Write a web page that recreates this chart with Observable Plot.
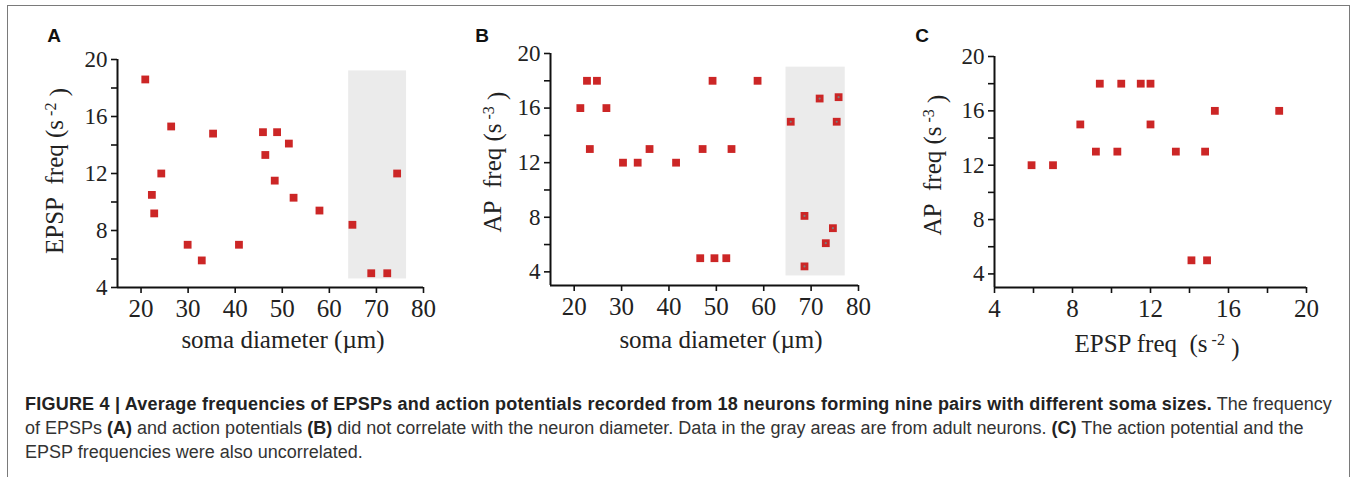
<!DOCTYPE html>
<html>
<head>
<meta charset="utf-8">
<script src="https://cdn.jsdelivr.net/npm/d3@7"></script>
<script src="https://cdn.jsdelivr.net/npm/@observablehq/plot@0.6"></script>
<style>
  body { margin: 0; background: #fff; }
  #wrap { position: relative; width: 1354px; height: 477px; overflow: hidden; background: #fff; }
  #frame { position: absolute; left: 7px; top: 5px; width: 1343px; height: 500px; border: 1.5px solid #7a7a7a; border-bottom: none; box-sizing: border-box; }
  .panel { position: absolute; top: 0; }
  #caption { position: absolute; left: 25px; top: 392px; font-family: "Liberation Sans", Arial, sans-serif; font-size: 18px; line-height: 24px; color: #333; white-space: nowrap; }
  #caption b { color: #222; }
  #caption b.lead { letter-spacing: 0.22px; }
</style>
</head>
<body>
<div id="wrap">
  <div id="frame"></div>
  <div id="pA" class="panel" style="left:0px"></div>
  <div id="pB" class="panel" style="left:450px"></div>
  <div id="pC" class="panel" style="left:900px"></div>
  <div id="caption">
    <b class="lead">FIGURE 4 | Average frequencies of EPSPs and action potentials recorded from 18 neurons forming nine pairs with different soma sizes.</b> The frequency<br>
    of EPSPs <b>(A)</b> and action potentials <b>(B)</b> did not correlate with the neuron diameter. Data in the gray areas are from adult neurons. <b>(C)</b> The action potential and the<br>
    EPSP frequencies were also uncorrelated.
  </div>
</div>
<script>
// ---------- DATA ----------
// Panel A: soma diameter (µm) vs EPSP freq
const aDiam = [20.9, 26.4, 24.3, 22.3, 22.8, 29.9, 32.9, 35.3, 40.8, 45.9, 48.9, 46.4, 51.4, 48.4, 52.4, 57.9, 64.9, 68.9, 72.3, 74.4];
const aEpsp = [18.6, 15.3, 12.0, 10.5, 9.2, 7.0, 5.9, 14.8, 7.0, 14.9, 14.9, 13.3, 14.1, 11.5, 10.3, 9.4, 8.4, 5.0, 5.0, 12.0];
// Panel B: soma diameter (µm) vs AP freq
const bDiam = [21.3, 22.7, 24.8, 23.3, 26.8, 30.3, 33.4, 35.9, 41.5, 46.6, 47.1, 49.2, 49.6, 52.1, 53.2, 58.7, 65.7, 68.6, 68.6, 71.8, 73.1, 74.6, 75.4, 75.8];
const bAp   = [16.0, 18.0, 18.0, 13.0, 16.0, 12.0, 12.0, 13.0, 12.0, 5.0, 13.0, 18.0, 5.0, 5.0, 13.0, 18.0, 15.0, 8.1, 4.4, 16.7, 6.1, 7.2, 15.0, 16.8];
// Panel C: EPSP freq vs AP freq
const cEpsp = [5.9, 7.0, 8.4, 9.2, 9.4, 10.3, 10.5, 11.5, 12.0, 12.0, 13.3, 14.1, 14.8, 14.9, 15.3, 18.6];
const cAp   = [12, 12, 15, 13, 18, 13, 18, 18, 18, 15, 13, 5, 13, 5, 16, 16];
// Gray (adult) areas
const adultA = {x1: 64.1, x2: 76.4, y1: 4.6, y2: 19.2};
const adultB = {x1: 64.7, x2: 77.2, y1: 3.7, y2: 19.0};
// Ticks
const diamTicks = [20, 30, 40, 50, 60, 70, 80];
const freqTicks = [4, 6, 8, 10, 12, 14, 16, 18, 20];
const freqLabels = [4, 8, 12, 16, 20];

// ---------- DRAW ----------
const RED = "#cc2626";
const SERIF = "Liberation Serif, Times New Roman, serif";

function panel(cfg) {
  const pts = cfg.xs.map((x, i) => ({x, y: cfg.ys[i]}));
  const marks = [];
  if (cfg.rect) marks.push(Plot.rect([cfg.rect], {x1: "x1", x2: "x2", y1: "y1", y2: "y2", fill: "#ebebeb"}));
  marks.push(
    Plot.axisX({ticks: cfg.xTicks, tickFormat: d => cfg.xLabels.includes(d) ? String(d) : "", tickSize: 6, tickPadding: 6, fontSize: 25, fontFamily: SERIF, strokeWidth: 1.6, stroke: "#111", fill: "#222", label: null}),
    Plot.axisY({ticks: freqTicks.filter(t => t >= cfg.yDomain[0]), tickFormat: d => freqLabels.includes(d) ? String(d) : "", tickSize: 6, tickPadding: 4, fontSize: 23, fontFamily: SERIF, strokeWidth: 1.6, stroke: "#111", fill: "#222", label: null}),
    Plot.ruleY([cfg.yDomain[0]], {stroke: "#111", strokeWidth: 2}),
    Plot.ruleX([cfg.xDomain[0]], {stroke: "#111", strokeWidth: 2}),
    Plot.dot(pts, {x: "x", y: "y", symbol: "square", r: 4.4, fill: RED})
  );
  if (cfg.adultDots) {
    const ad = pts.filter(p => p.x >= cfg.rect.x1 && p.x <= cfg.rect.x2);
    marks.push(Plot.dot(ad, {x: "x", y: "y", r: 1.1, fill: "#7d7d7d"}));
  }
  const svg = Plot.plot({
    width: cfg.width, height: 370,
    marginLeft: cfg.m[0], marginRight: cfg.m[1], marginTop: cfg.m[2], marginBottom: cfg.m[3],
    x: {domain: cfg.xDomain},
    y: {domain: cfg.yDomain},
    style: {fontFamily: SERIF, background: "transparent", overflow: "visible", color: "#111"},
    marks
  });
  const s = d3.select(svg);
  // panel letter
  s.append("text").attr("x", cfg.letterX).attr("y", 42)
    .attr("font-family", "Liberation Sans, Arial, sans-serif").attr("font-weight", "bold").attr("font-size", 19)
    .attr("fill", "#111").text(cfg.letter);
  // x title
  const xt = s.append("text").attr("x", cfg.xt[0]).attr("y", cfg.xt[1]).attr("text-anchor", "middle")
    .attr("font-family", SERIF).attr("font-size", 25).attr("fill", "#222");
  addLabel(xt, cfg.xTitle);
  // y title
  const yt = s.append("text").attr("transform", `translate(${cfg.yt[0]},${cfg.yt[1]}) rotate(-90)`).attr("text-anchor", "middle")
    .attr("font-family", SERIF).attr("font-size", 25).attr("fill", "#222");
  addLabel(yt, cfg.yTitle);
  document.getElementById(cfg.id).appendChild(svg);
}

function addLabel(t, parts) {
  // parts: [main, superscript|null]
  t.append("tspan").text(parts[0]);
  if (parts[1]) {
    t.append("tspan").attr("dy", "-0.45em").attr("font-size", 16).text("\u00a0" + parts[1]);
    t.append("tspan").attr("dy", "0.45em").text("\u00a0)");
  }
}

panel({
  id: "pA", letter: "A", letterX: 54, width: 450, m: [117, 27, 59, 83],
  xs: aDiam, ys: aEpsp, xDomain: [15, 80], yDomain: [4, 20],
  xTicks: diamTicks, xLabels: diamTicks, rect: adultA, adultDots: false,
  xTitle: ["soma diameter (\u00b5m)", null], xt: [283, 348],
  yTitle: ["EPSP\u00a0\u00a0freq (s", "-2"], yt: [63, 171]
});
panel({
  id: "pB", letter: "B", letterX: 32, width: 450, m: [100, 42, 53, 85],
  xs: bDiam, ys: bAp, xDomain: [15, 80], yDomain: [3, 20],
  xTicks: diamTicks, xLabels: diamTicks, rect: adultB, adultDots: true,
  xTitle: ["soma diameter (\u00b5m)", null], xt: [271, 348],
  yTitle: ["AP\u00a0\u00a0freq (s", "-3"], yt: [51, 162]
});
panel({
  id: "pC", letter: "C", letterX: 22, width: 454, m: [94, 48, 56, 83],
  xs: cEpsp, ys: cAp, xDomain: [4, 20], yDomain: [3, 20],
  xTicks: freqTicks, xLabels: freqLabels, rect: null, adultDots: false,
  xTitle: ["EPSP freq\u00a0\u00a0(s", "-2"], xt: [257, 352],
  yTitle: ["AP\u00a0\u00a0freq (s", "-3"], yt: [41, 165]
});
</script>
</body>
</html>
